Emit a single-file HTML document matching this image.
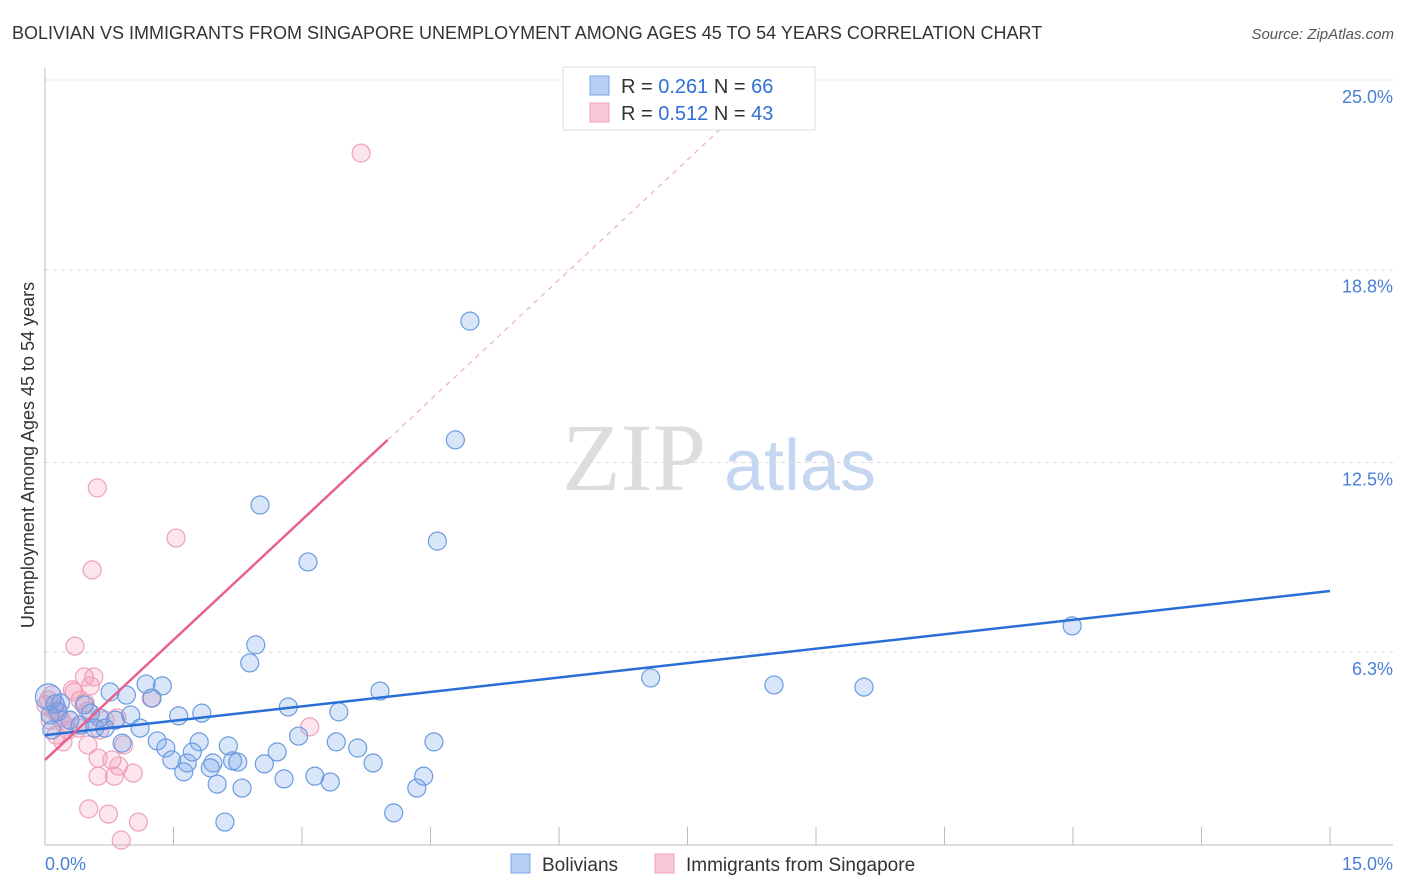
<!DOCTYPE html>
<html><head><meta charset="utf-8"><style>
body{margin:0;background:#fff;font-family:"Liberation Sans",sans-serif;}
svg{display:block}
</style></head><body>
<svg id="chart" width="1406" height="892">
<text x="12" y="39" font-size="18" fill="#333">BOLIVIAN VS IMMIGRANTS FROM SINGAPORE UNEMPLOYMENT AMONG AGES 45 TO 54 YEARS CORRELATION CHART</text>
<text x="1394" y="39" font-size="15" fill="#555" text-anchor="end" font-style="italic">Source: ZipAtlas.com</text>
<g>
<text x="634" y="490" font-size="96" font-family="Liberation Serif,serif" fill="#ddd" text-anchor="middle">ZIP</text>
<text x="800" y="490" font-size="72" fill="#c5d6f0" text-anchor="middle">atlas</text>
</g>
<g id="grid"></g>
<g id="axes"></g>
<g id="marks"></g>
<text transform="translate(34,455) rotate(-90)" font-size="18" fill="#333" text-anchor="middle">Unemployment Among Ages 45 to 54 years</text>
<g>
<rect x="563" y="67" width="252" height="63" fill="#fff" stroke="#ddd"/>
<rect x="590" y="76" width="19" height="19" fill="#b8d0f4" stroke="#7aa5e6"/>
<text x="621" y="93" font-size="20" fill="#333">R = <tspan fill="#2f6fd6">0.261</tspan>   N = <tspan fill="#2f6fd6">66</tspan></text>
<rect x="590" y="103" width="19" height="19" fill="#f9c8d6" stroke="#f0a0b8"/>
<text x="621" y="120" font-size="20" fill="#333">R = <tspan fill="#2f6fd6">0.512</tspan>   N = <tspan fill="#2f6fd6">43</tspan></text>
</g>
<g>
<rect x="511" y="854" width="19" height="19" fill="#b8d0f4" stroke="#7aa5e6"/>
<text x="542" y="871" font-size="19" fill="#333">Bolivians</text>
<rect x="655" y="854" width="19" height="19" fill="#f9c8d6" stroke="#f0a0b8"/>
<text x="686" y="871" font-size="19" fill="#333">Immigrants from Singapore</text>
</g>
</svg>
<script>
const blueX=[4.96,4.79,2.51,4.58,3.07,2.46,2.39,11.99,7.07,8.51,9.56,3.91,1.18,1.37,0.76,0.95,1.25,2.84,3.43,1.56,1.83,1.00,0.53,0.64,0.46,0.18,0.15,0.12,0.70,1.11,0.90,1.31,1.41,1.80,2.14,1.72,1.48,1.66,2.71,3.40,3.65,4.54,2.96,2.56,2.19,1.96,1.62,1.93,2.25,3.83,3.15,2.79,3.33,4.42,2.01,2.30,4.34,4.07,2.10,0.04,0.06,0.29,0.41,0.58,0.82,0.08];
const blueY=[17.12,13.24,11.11,9.93,9.25,6.54,5.95,7.16,5.46,5.23,5.16,5.03,5.26,5.20,5.00,4.90,4.80,4.51,4.35,4.22,4.31,4.25,4.31,4.15,4.58,4.64,4.35,4.61,3.82,3.82,3.33,3.40,3.17,3.37,3.24,3.04,2.78,2.68,3.04,3.37,3.17,3.37,3.56,2.65,2.75,2.68,2.39,2.52,2.71,2.68,2.25,2.16,2.06,2.25,1.99,1.86,1.86,1.05,0.75,4.84,4.25,4.08,3.92,3.82,4.08,3.76];
const pinkX=[3.69,0.61,1.53,0.55,0.35,0.46,0.57,0.34,0.53,0.04,0.12,0.18,0.23,0.29,0.39,0.06,0.13,0.21,0.50,0.84,0.78,0.62,0.62,0.92,0.86,1.03,0.81,1.24,3.09,0.51,0.74,1.09,0.89,0.32,0.41,0.47,0.27,0.64,0.01,0.08,0.50,0.15,0.70];
const pinkY=[22.61,11.67,10.03,8.99,6.50,5.49,5.49,5.00,5.20,4.74,4.35,4.15,3.92,4.08,3.82,4.08,3.59,3.37,4.38,4.15,2.78,2.84,2.25,3.27,2.58,2.35,2.25,4.80,3.86,1.18,1.01,0.75,0.16,5.07,4.74,4.64,3.76,3.76,4.58,4.90,3.27,4.41,4.08];
const blueFit=[3.59,8.30];
const pinkFit=[2.78,2.615];
const yTicks=[6.3,12.5,18.8,25.0];
const yTickLabels=["6.3%","12.5%","18.8%","25.0%"];
const xTickVals=[0,1.5,3,4.5,6,7.5,9,10.5,12,13.5,15];
const NS="http://www.w3.org/2000/svg";
const xs=v=>45+v*(1285/15), ys=v=>845-v*30.6;
function mk(tag,attrs,parent){const e=document.createElementNS(NS,tag);for(const k in attrs)e.setAttribute(k,attrs[k]);document.getElementById(parent).appendChild(e);return e;}
yTicks.forEach((t,i)=>{
 const g=mk('line',{x1:45,x2:1393,y1:ys(t),y2:ys(t),stroke:'#ddd','stroke-dasharray':'4,4'},'grid');
 
 
 const l=mk('text',{x:1393,y:ys(t)+23,'font-size':18,fill:'#4a7fd6','text-anchor':'end'},'axes');
 l.textContent=yTickLabels[i];
 
 
});
let a=mk('line',{x1:45,x2:45,y1:68,y2:845,stroke:'#bbb'},'axes');


a=mk('line',{x1:45,x2:1393,y1:845,y2:845,stroke:'#bbb'},'axes');


xTickVals.forEach(t=>{const e=mk('line',{x1:xs(t),x2:xs(t),y1:827,y2:845,stroke:'#bbb'},'axes');
 
 });
let t0=mk('text',{x:45,y:870,'font-size':18,fill:'#4a7fd6'},'axes');t0.textContent='0.0%';


t0=mk('text',{x:1393,y:870,'font-size':18,fill:'#4a7fd6','text-anchor':'end'},'axes');t0.textContent='15.0%';


function dots(X,Y,fill,stroke,name){X.forEach((x,i)=>{const c=mk('circle',{cx:xs(x),cy:ys(Y[i]),r:(i==59&&name=='bolivian-point')?13:9,fill:fill,stroke:stroke,'stroke-width':1.2},'marks');
 
 });}
dots(pinkX,pinkY,'rgba(244,150,180,0.25)','#f0a0b8','singapore-point');
dots(blueX,blueY,'rgba(120,165,235,0.28)','#6a9be0','bolivian-point');
let r=mk('line',{x1:xs(0),y1:ys(blueFit[0]),x2:xs(15),y2:ys(blueFit[1]),stroke:'#2a6fd6','stroke-width':2.5},'marks');


r=mk('line',{x1:xs(0),y1:ys(pinkFit[0]),x2:xs(4),y2:ys(pinkFit[0]+pinkFit[1]*4),stroke:'#e8608e','stroke-width':2.5},'marks');


const xe=(25-pinkFit[0])/pinkFit[1];
r=mk('line',{x1:xs(4),y1:ys(pinkFit[0]+pinkFit[1]*4),x2:xs(xe),y2:ys(25),stroke:'#eab0c2','stroke-width':1.2,'stroke-dasharray':'5,5'},'marks');


</script>
</body></html>
